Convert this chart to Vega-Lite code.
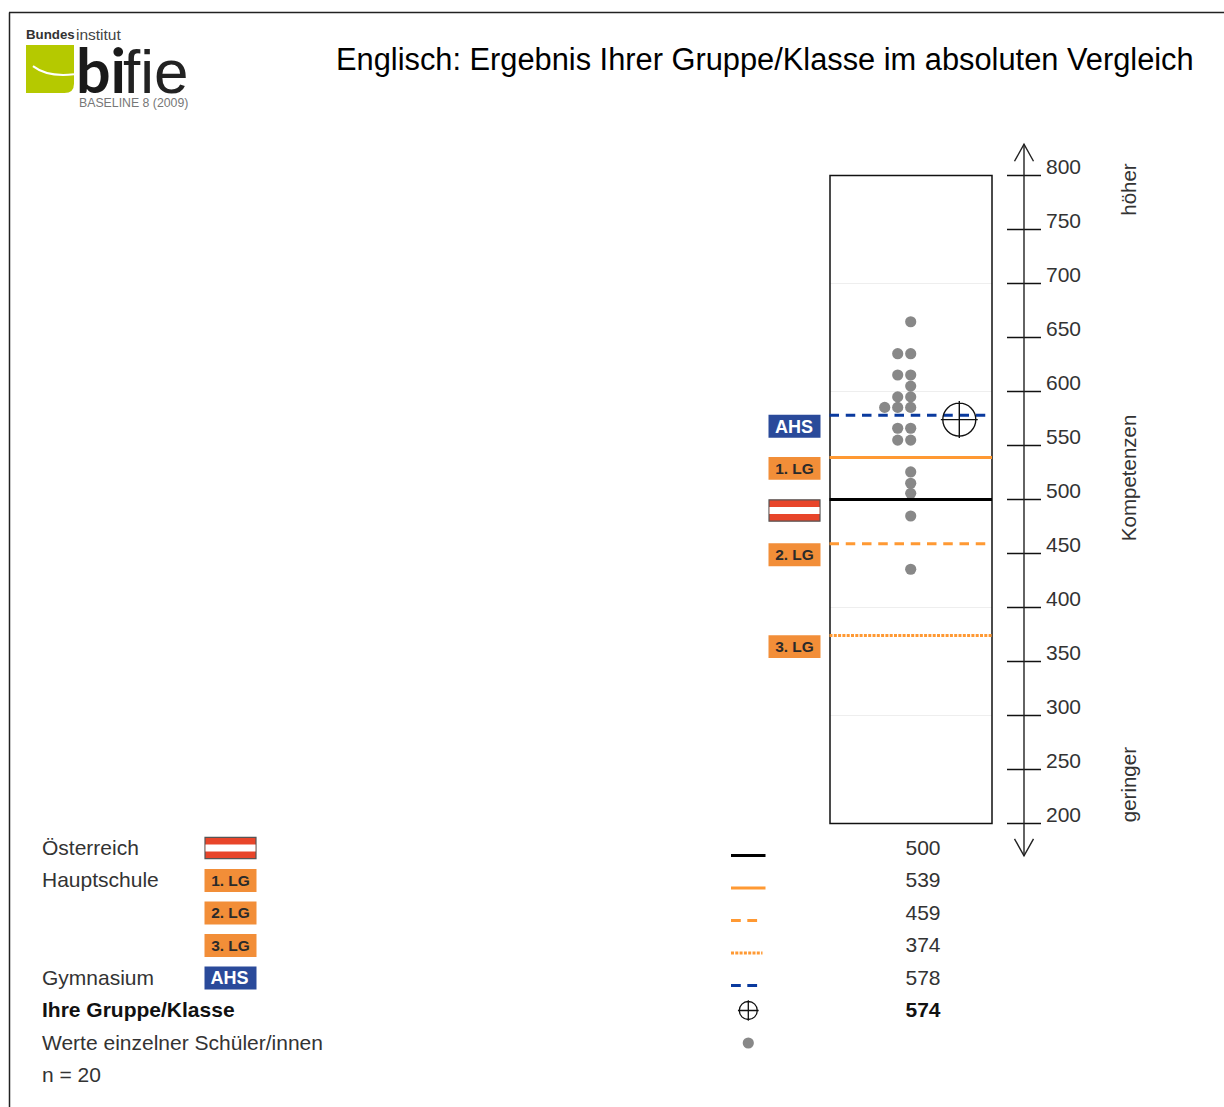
{
"$schema":"https://vega.github.io/schema/vega-lite/v6.json",
"width":1224,"height":1107,"autosize":"none","padding":0,"background":"white",
"config":{"view":{"stroke":null},"text":{"font":"Liberation Sans"}},
"title":{"text":"Englisch: Ergebnis Ihrer Gruppe/Klasse im absoluten Vergleich","anchor":"start","frame":"group","dx":336,"offset":-92,"baseline":"middle","fontSize":30.8,"fontWeight":"normal","font":"Liberation Sans","color":"#000000"},
"datasets":{
"gruppen":[
{"gruppe":"Österreich","wert":500,"badge":""},
{"gruppe":"Hauptschule 1. LG","wert":539,"badge":"1. LG"},
{"gruppe":"Hauptschule 2. LG","wert":459,"badge":"2. LG"},
{"gruppe":"Hauptschule 3. LG","wert":374,"badge":"3. LG"},
{"gruppe":"Gymnasium","wert":578,"badge":"AHS"}],
"schueler":[
{"wert":664.6,"spalte":0},{"wert":635,"spalte":-1},{"wert":635,"spalte":0},{"wert":615.3,"spalte":-1},{"wert":615.3,"spalte":0},{"wert":605,"spalte":0},{"wert":595,"spalte":-1},{"wert":595,"spalte":0},{"wert":585.3,"spalte":-2},{"wert":585.3,"spalte":-1},{"wert":585.3,"spalte":0},{"wert":566,"spalte":-1},{"wert":566,"spalte":0},{"wert":555,"spalte":-1},{"wert":555,"spalte":0},{"wert":525.5,"spalte":0},{"wert":515,"spalte":0},{"wert":505.7,"spalte":0},{"wert":484.7,"spalte":0},{"wert":435.4,"spalte":0}],
"legende":[
{"zeile":"Österreich","text":"Österreich","gruppe":"Österreich","wert":"500","art":"flagge"},
{"zeile":"Hauptschule","text":"Hauptschule","gruppe":"Hauptschule 1. LG","wert":"539","badge":"1. LG","art":"orange"},
{"zeile":"2. LG","text":"","gruppe":"Hauptschule 2. LG","wert":"459","badge":"2. LG","art":"orange"},
{"zeile":"3. LG","text":"","gruppe":"Hauptschule 3. LG","wert":"374","badge":"3. LG","art":"orange"},
{"zeile":"Gymnasium","text":"Gymnasium","gruppe":"Gymnasium","wert":"578","badge":"AHS","art":"blau"},
{"zeile":"Ihre Gruppe/Klasse","text":"Ihre Gruppe/Klasse","wert":"574","art":"gruppe"},
{"zeile":"Werte einzelner Schüler/innen","text":"Werte einzelner Schüler/innen","art":"punkt"},
{"zeile":"n = 20","text":"n = 20","art":"n"}]
},
"resolve":{"scale":{"x":"independent","y":"independent"},"axis":{"x":"independent","y":"independent"}},
"layer":[
{"layer":[
{"mark":{"type":"rule","stroke":"#222222","strokeWidth":1.5},"data":{"values":[{"linie":"links"}]},"encoding":{"x":{"datum":9.5,"scale":{"domain":[0,1224],"nice":false,"zero":false},"axis":null},"y":{"datum":12.5,"scale":{"domain":[0,1107],"reverse":true,"nice":false,"zero":false},"axis":null},"y2":{"datum":1107}}},
{"mark":{"type":"rule","stroke":"#222222","strokeWidth":1.5},"data":{"values":[{"linie":"oben"}]},"encoding":{"x":{"datum":9,"axis":null},"x2":{"datum":1224},"y":{"datum":12.5,"axis":null}}},
{"mark":{"type":"point","filled":true,"fill":"#b5c900","stroke":null,"opacity":1,"shape":"M-1,-1H1V0.6Q1,1 0.6,1H-1Z","size":2304},"data":{"values":[{"logo":"Feld"}]},"encoding":{"x":{"datum":50,"axis":null},"y":{"datum":69,"axis":null}}},
{"mark":{"type":"point","filled":false,"stroke":"white","strokeWidth":2,"opacity":1,"shape":"M-0.71,-0.12Q-0.1,0.35 1,0.22","size":2304},"data":{"values":[{"logo":"Bogen"}]},"encoding":{"x":{"datum":50,"axis":null},"y":{"datum":69,"axis":null}}},
{"mark":{"type":"text","align":"left","baseline":"alphabetic","font":"Lato","fontWeight":"bold","fontSize":61,"fill":"#1a1a1a"},"data":{"values":[{"t":"bi"}]},"encoding":{"text":{"field":"t"},"x":{"datum":76,"axis":null},"y":{"datum":93,"axis":null}}},
{"mark":{"type":"text","align":"left","baseline":"alphabetic","font":"Liberation Sans","fontSize":62,"fill":"#222222"},"data":{"values":[{"t":"fie"}]},"encoding":{"text":{"field":"t"},"x":{"datum":123,"axis":null},"y":{"datum":93,"axis":null}}},
{"mark":{"type":"text","align":"left","baseline":"middle","font":"Liberation Sans","fontWeight":"bold","fontSize":13.3,"fill":"#333333"},"data":{"values":[{"t":"Bundes"}]},"encoding":{"text":{"field":"t"},"x":{"datum":26,"axis":null},"y":{"datum":35,"axis":null}}},
{"mark":{"type":"text","align":"left","baseline":"middle","font":"Liberation Sans","fontSize":15.5,"fill":"#444444"},"data":{"values":[{"t":"institut"}]},"encoding":{"text":{"field":"t"},"x":{"datum":76,"axis":null},"y":{"datum":35,"axis":null}}},
{"mark":{"type":"text","align":"left","baseline":"middle","font":"Liberation Sans","fontSize":12.3,"fill":"#777777"},"data":{"values":[{"t":"BASELINE 8 (2009)"}]},"encoding":{"text":{"field":"t"},"x":{"datum":79,"axis":null},"y":{"datum":103,"axis":null}}}
]},
{"mark":{"type":"rule","stroke":"#eeeeee","strokeWidth":1},"data":{"values":[{"wert":300},{"wert":400},{"wert":600},{"wert":700}]},"encoding":{
"x":{"datum":830,"scale":{"domain":[0,1224],"nice":false,"zero":false},"axis":null},"x2":{"datum":992},
"y":{"field":"wert","type":"quantitative","scale":{"domain":[-62.5,962.5],"nice":false,"zero":false},
"axis":{"orient":"left","offset":-1041,"values":[200,250,300,350,400,450,500,550,600,650,700,750,800],"domain":false,"grid":false,"ticks":true,"labels":true,"tickSize":34,"tickRound":false,"translate":0,"tickColor":"#111111","tickWidth":1.4,"labelPadding":-39,"labelAlign":"left","labelBaseline":"middle","labelOffset":-7.5,"labelFontSize":21,"labelFont":"Liberation Sans","labelColor":"#333333","title":null}}}},
{"data":{"name":"schueler"},"mark":{"type":"circle","size":125,"opacity":1,"fill":"#888888"},"encoding":{
"x":{"field":"spalte","type":"ordinal","scale":{"type":"point","domain":[-2,-1,0],"range":[884.7,910.7],"padding":0},"axis":null},
"y":{"field":"wert","type":"quantitative","scale":{"domain":[-62.5,962.5],"nice":false,"zero":false},"axis":null}}},
{"layer":[
{"mark":{"type":"rect","fill":null,"filled":false,"stroke":"#111111","strokeWidth":1.5},"data":{"values":[{"rahmen":"Skala"}]},"encoding":{"x":{"datum":830,"scale":{"domain":[0,1224],"nice":false,"zero":false},"axis":null},"x2":{"datum":992},"y":{"datum":800,"scale":{"domain":[-62.5,962.5],"nice":false,"zero":false},"axis":null},"y2":{"datum":200}}},
{"mark":{"type":"rule","stroke":"#222222","strokeWidth":1.4},"data":{"values":[{"achse":"Kompetenzen"}]},"encoding":{"x":{"datum":1024,"axis":null},"y":{"datum":829,"axis":null},"y2":{"datum":170}}},
{"mark":{"type":"point","filled":false,"stroke":"#222222","strokeWidth":1.4,"opacity":1,"shape":"M-1,1.8L0,0L1,1.8","size":361},"data":{"values":[{"pfeil":"oben"}]},"encoding":{"x":{"datum":1024,"axis":null},"y":{"datum":829,"axis":null}}},
{"mark":{"type":"point","filled":false,"stroke":"#222222","strokeWidth":1.4,"opacity":1,"shape":"M-1,-1.8L0,0L1,-1.8","size":361},"data":{"values":[{"pfeil":"unten"}]},"encoding":{"x":{"datum":1024,"axis":null},"y":{"datum":170,"axis":null}}},
{"mark":{"type":"text","angle":270,"align":"center","baseline":"middle","fontSize":20.5,"fill":"#333333"},"data":{"values":[{"t":"höher","wert":787},{"t":"Kompetenzen","wert":520},{"t":"geringer","wert":236}]},"encoding":{"text":{"field":"t"},"x":{"datum":1130,"axis":null},"y":{"field":"wert","type":"quantitative","axis":null}}},
{"data":{"name":"gruppen"},"mark":{"type":"rule","strokeWidth":3},"encoding":{
"x":{"datum":829.5,"axis":null},"x2":{"datum":992},
"y":{"field":"wert","type":"quantitative","axis":null},
"stroke":{"field":"gruppe","type":"nominal","scale":{"domain":["Österreich","Hauptschule 1. LG","Hauptschule 2. LG","Hauptschule 3. LG","Gymnasium"],"range":["#000000","#ff9933","#ff9933","#ff9933","#0a3a9e"]},"legend":null},
"strokeDash":{"field":"gruppe","type":"nominal","scale":{"domain":["Österreich","Hauptschule 1. LG","Hauptschule 2. LG","Hauptschule 3. LG","Gymnasium"],"range":[[1,0],[1,0],[9.5,6.75],[3,1.3],[9.5,6.75]]},"legend":null}}},
{"data":{"name":"gruppen"},"transform":[{"filter":"datum.badge === '1. LG' || datum.badge === '2. LG' || datum.badge === '3. LG'"}],"mark":{"type":"point","filled":true,"fill":"#f28e38","stroke":null,"opacity":1,"shape":"M-1,-0.44H1V0.44H-1Z","size":2704,"yOffset":11},"encoding":{"x":{"datum":794.5,"axis":null},"y":{"field":"wert","type":"quantitative","axis":null}}},
{"data":{"name":"gruppen"},"transform":[{"filter":"datum.badge === 'AHS'"}],"mark":{"type":"point","filled":true,"fill":"#2a4a9a","stroke":null,"opacity":1,"shape":"M-1,-0.44H1V0.44H-1Z","size":2704,"yOffset":11},"encoding":{"x":{"datum":794.5,"axis":null},"y":{"field":"wert","type":"quantitative","axis":null}}},
{"data":{"name":"gruppen"},"transform":[{"filter":"datum.badge === ''"}],"mark":{"type":"point","filled":true,"fill":"#e8452a","stroke":"#555555","strokeWidth":1.2,"opacity":1,"shape":"M-1,-0.42H1V0.42H-1Z","size":2600,"yOffset":11},"encoding":{"x":{"datum":794.5,"axis":null},"y":{"field":"wert","type":"quantitative","axis":null}}},
{"data":{"name":"gruppen"},"transform":[{"filter":"datum.badge === ''"}],"mark":{"type":"point","filled":true,"fill":"white","stroke":null,"opacity":1,"shape":"M-1,-0.14H1V0.14H-1Z","size":2500,"yOffset":11},"encoding":{"x":{"datum":794.5,"axis":null},"y":{"field":"wert","type":"quantitative","axis":null}}},
{"data":{"name":"gruppen"},"transform":[{"filter":"datum.badge !== '' && datum.badge !== 'AHS'"}],"mark":{"type":"text","fontSize":15.5,"fontWeight":"bold","fill":"#2a2a2a","align":"center","baseline":"middle","yOffset":11.5},"encoding":{"text":{"field":"badge"},"x":{"datum":794.5,"axis":null},"y":{"field":"wert","type":"quantitative","axis":null}}},
{"data":{"name":"gruppen"},"transform":[{"filter":"datum.badge === 'AHS'"}],"mark":{"type":"text","fontSize":18,"fontWeight":"bold","fill":"white","align":"center","baseline":"middle","yOffset":12.5},"encoding":{"text":{"field":"badge"},"x":{"datum":794,"axis":null},"y":{"field":"wert","type":"quantitative","axis":null}}},
{"data":{"values":[{"gruppe":"Ihre Gruppe/Klasse","wert":574}]},"mark":{"type":"point","filled":false,"stroke":"#111111","strokeWidth":1.4,"opacity":1,"shape":"M-1,0A1,1 0 1,1 1,0A1,1 0 1,1 -1,0ZM-1.12,0H1.12M0,-1.12V1.12","size":1089},"encoding":{"x":{"datum":959.3,"axis":null},"y":{"field":"wert","type":"quantitative","axis":null}}}
]},
{"data":{"name":"legende"},"layer":[
{"transform":[{"filter":"datum.art !== 'gruppe' && datum.text !== ''"}],"mark":{"type":"text","align":"left","baseline":"middle","dy":0.8,"fontSize":21,"fill":"#333333"},"encoding":{"text":{"field":"text"},
"x":{"datum":42,"scale":{"domain":[0,1224],"nice":false,"zero":false},"axis":null},
"y":{"field":"zeile","type":"nominal","scale":{"type":"point","domain":["Österreich","Hauptschule","2. LG","3. LG","Gymnasium","Ihre Gruppe/Klasse","Werte einzelner Schüler/innen","n = 20"],"range":[848,1075.5],"padding":0},"axis":null}}},
{"transform":[{"filter":"datum.art === 'gruppe'"}],"mark":{"type":"text","align":"left","baseline":"middle","dy":0.8,"fontSize":21,"fontWeight":"bold","fill":"#111111"},"encoding":{"text":{"field":"text"},"x":{"datum":42,"axis":null},"y":{"field":"zeile","type":"nominal","axis":null}}},
{"transform":[{"filter":"datum.art === 'orange'"}],"mark":{"type":"point","filled":true,"fill":"#f28e38","stroke":null,"opacity":1,"shape":"M-1,-0.44H1V0.44H-1Z","size":2704},"encoding":{"x":{"datum":230.5,"axis":null},"y":{"field":"zeile","type":"nominal","axis":null}}},
{"transform":[{"filter":"datum.art === 'blau'"}],"mark":{"type":"point","filled":true,"fill":"#2a4a9a","stroke":null,"opacity":1,"shape":"M-1,-0.44H1V0.44H-1Z","size":2704},"encoding":{"x":{"datum":230.5,"axis":null},"y":{"field":"zeile","type":"nominal","axis":null}}},
{"transform":[{"filter":"datum.art === 'flagge'"}],"mark":{"type":"point","filled":true,"fill":"#e8452a","stroke":"#555555","strokeWidth":1.2,"opacity":1,"shape":"M-1,-0.42H1V0.42H-1Z","size":2600},"encoding":{"x":{"datum":230.5,"axis":null},"y":{"field":"zeile","type":"nominal","axis":null}}},
{"transform":[{"filter":"datum.art === 'flagge'"}],"mark":{"type":"point","filled":true,"fill":"white","stroke":null,"opacity":1,"shape":"M-1,-0.14H1V0.14H-1Z","size":2500},"encoding":{"x":{"datum":230.5,"axis":null},"y":{"field":"zeile","type":"nominal","axis":null}}},
{"transform":[{"filter":"datum.art === 'orange'"}],"mark":{"type":"text","fontSize":15.5,"fontWeight":"bold","fill":"#2a2a2a","align":"center","baseline":"middle"},"encoding":{"text":{"field":"badge"},"x":{"datum":230.5,"axis":null},"y":{"field":"zeile","type":"nominal","axis":null}}},
{"transform":[{"filter":"datum.art === 'blau'"}],"mark":{"type":"text","fontSize":18,"fontWeight":"bold","fill":"white","align":"center","baseline":"middle","dy":1},"encoding":{"text":{"field":"badge"},"x":{"datum":229.5,"axis":null},"y":{"field":"zeile","type":"nominal","axis":null}}},
{"transform":[{"filter":"datum.art === 'flagge' || datum.gruppe === 'Hauptschule 1. LG'"}],"mark":{"type":"rule","strokeWidth":3,"yOffset":7.5},"encoding":{"x":{"datum":731,"axis":null},"x2":{"datum":765.5},"y":{"field":"zeile","type":"nominal","axis":null},"stroke":{"field":"gruppe","type":"nominal","scale":{"domain":["Österreich","Hauptschule 1. LG","Hauptschule 2. LG","Hauptschule 3. LG","Gymnasium"],"range":["#000000","#ff9933","#ff9933","#ff9933","#0a3a9e"]},"legend":null}}},
{"transform":[{"filter":"datum.gruppe === 'Hauptschule 2. LG' || datum.art === 'blau'"}],"mark":{"type":"rule","strokeWidth":3,"yOffset":7.5,"strokeDash":[9.8,6.5]},"encoding":{"x":{"datum":731,"axis":null},"x2":{"datum":757.7},"y":{"field":"zeile","type":"nominal","axis":null},"stroke":{"field":"gruppe","type":"nominal","legend":null}}},
{"transform":[{"filter":"datum.gruppe === 'Hauptschule 3. LG'"}],"mark":{"type":"rule","strokeWidth":3,"yOffset":7.5,"strokeDash":[3,1.3]},"encoding":{"x":{"datum":731,"axis":null},"x2":{"datum":762.5},"y":{"field":"zeile","type":"nominal","axis":null},"stroke":{"field":"gruppe","type":"nominal","legend":null}}},
{"transform":[{"filter":"datum.art === 'gruppe'"}],"mark":{"type":"point","filled":false,"stroke":"#111111","strokeWidth":1.3,"opacity":1,"shape":"M-1,0A1,1 0 1,1 1,0A1,1 0 1,1 -1,0ZM-1.15,0H1.15M0,-1.15V1.15","size":324},"encoding":{"x":{"datum":748.3,"axis":null},"y":{"field":"zeile","type":"nominal","axis":null}}},
{"transform":[{"filter":"datum.art === 'punkt'"}],"mark":{"type":"circle","size":125,"opacity":1,"fill":"#888888"},"encoding":{"x":{"datum":748.3,"axis":null},"y":{"field":"zeile","type":"nominal","axis":null}}},
{"transform":[{"filter":"isValid(datum.wert) && datum.art !== 'gruppe'"}],"mark":{"type":"text","align":"center","baseline":"middle","dy":0.8,"fontSize":21,"fill":"#333333"},"encoding":{"text":{"field":"wert"},"x":{"datum":923,"axis":null},"y":{"field":"zeile","type":"nominal","axis":null}}},
{"transform":[{"filter":"datum.art === 'gruppe'"}],"mark":{"type":"text","align":"center","baseline":"middle","dy":0.8,"fontSize":21,"fontWeight":"bold","fill":"#111111"},"encoding":{"text":{"field":"wert"},"x":{"datum":923,"axis":null},"y":{"field":"zeile","type":"nominal","axis":null}}}
]}
]
}
